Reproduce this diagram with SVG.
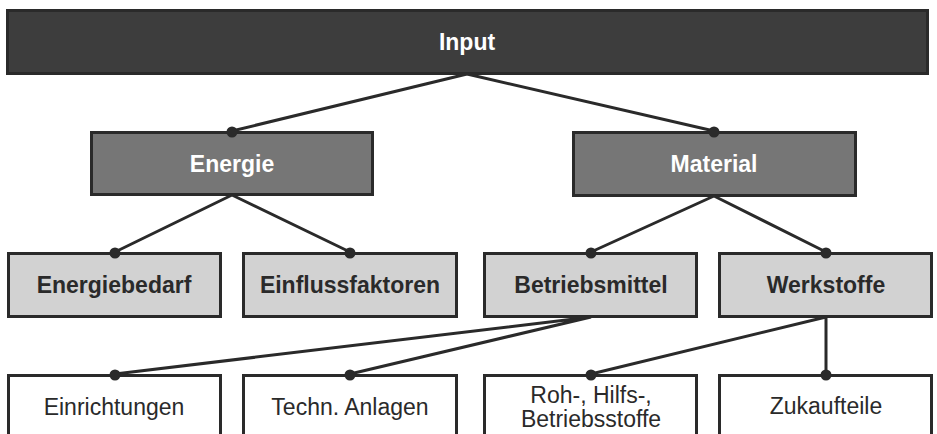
<svg xmlns="http://www.w3.org/2000/svg" width="937" height="434" viewBox="0 0 937 434">
  <style>
    .box { stroke: #2a2a2a; stroke-width: 3; }
    .top { fill: #3d3d3d; }
    .mid { fill: #767676; }
    .sub { fill: #d2d2d2; }
    .leaf { fill: #ffffff; }
    .lbl { font-family: "Liberation Sans", Arial, sans-serif; font-size: 23px; text-anchor: middle; }
    .b { font-weight: bold; }
    .light { fill: #ffffff; }
    .dark { fill: #2a2a2a; }
    .link { stroke: #2a2a2a; stroke-width: 3; fill: none; }
    .dot { fill: #2a2a2a; }
  </style>
  <rect width="937" height="434" fill="#ffffff"/>

  <!-- connectors -->
  <g id="connectors">
    <path class="link" d="M467,74 L232,131 M467,74 L714,131"/>
    <path class="link" d="M232,195 L115,252 M232,195 L350,252"/>
    <path class="link" d="M714,196 L591,252 M714,196 L826,252"/>
    <path class="link" d="M591,317 L115,374 M591,317 L350,374"/>
    <path class="link" d="M826,317 L591,374 M826,317 L826,374"/>
  </g>

  <g id="input">
    <rect class="box top" x="7.5" y="10.5" width="920" height="63"/>
    <text class="lbl b light" x="467" y="50">Input</text>
  </g>

  <g id="energie">
    <rect class="box mid" x="91.5" y="132.5" width="281" height="62"/>
    <text class="lbl b light" x="232" y="172">Energie</text>
  </g>
  <g id="material">
    <rect class="box mid" x="573.5" y="132.5" width="282" height="63"/>
    <text class="lbl b light" x="714" y="172">Material</text>
  </g>

  <g id="energiebedarf">
    <rect class="box sub" x="8.5" y="253.5" width="212" height="63"/>
    <text class="lbl b dark" x="114" y="293">Energiebedarf</text>
  </g>
  <g id="einflussfaktoren">
    <rect class="box sub" x="243.5" y="253.5" width="213" height="63"/>
    <text class="lbl b dark" x="350" y="293">Einflussfaktoren</text>
  </g>
  <g id="betriebsmittel">
    <rect class="box sub" x="484.5" y="253.5" width="212" height="63"/>
    <text class="lbl b dark" x="591" y="293">Betriebsmittel</text>
  </g>
  <g id="werkstoffe">
    <rect class="box sub" x="719.5" y="253.5" width="212" height="63"/>
    <text class="lbl b dark" x="826" y="293">Werkstoffe</text>
  </g>

  <g id="einrichtungen">
    <rect class="box leaf" x="8.5" y="375.5" width="212" height="70"/>
    <text class="lbl dark" x="114" y="415">Einrichtungen</text>
  </g>
  <g id="techn-anlagen">
    <rect class="box leaf" x="243.5" y="375.5" width="213" height="70"/>
    <text class="lbl dark" x="350" y="415">Techn. Anlagen</text>
  </g>
  <g id="roh-hilfs-betriebsstoffe">
    <rect class="box leaf" x="484.5" y="375.5" width="212" height="70"/>
    <text class="lbl dark" x="591" y="403">Roh-, Hilfs-,</text>
    <text class="lbl dark" x="591" y="427">Betriebsstoffe</text>
  </g>
  <g id="zukaufteile">
    <rect class="box leaf" x="719.5" y="375.5" width="212" height="70"/>
    <text class="lbl dark" x="826" y="414">Zukaufteile</text>
  </g>

  <!-- connection dots on the child boxes -->
  <g id="dots">
    <circle class="dot" cx="232" cy="132" r="5.5"/>
    <circle class="dot" cx="714" cy="132" r="5.5"/>
    <circle class="dot" cx="115" cy="253" r="5.5"/>
    <circle class="dot" cx="350" cy="253" r="5.5"/>
    <circle class="dot" cx="591" cy="253" r="5.5"/>
    <circle class="dot" cx="826" cy="253" r="5.5"/>
    <circle class="dot" cx="115" cy="375" r="5.5"/>
    <circle class="dot" cx="350" cy="375" r="5.5"/>
    <circle class="dot" cx="591" cy="375" r="5.5"/>
    <circle class="dot" cx="826" cy="375" r="5.5"/>
  </g>
</svg>
